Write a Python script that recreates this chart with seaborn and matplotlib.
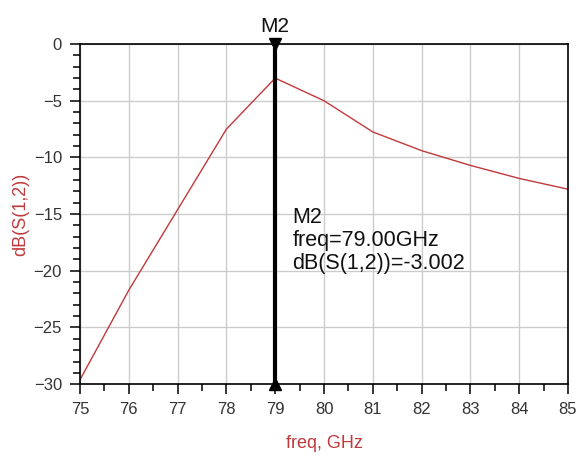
import numpy as np
import pandas as pd
import matplotlib
matplotlib.use("Agg")
import matplotlib.pyplot as plt
import seaborn as sns
from matplotlib.ticker import MultipleLocator

freq = [75, 76, 77, 78, 79, 80, 81, 82, 83, 84, 85]
s12_db = [-29.6, -21.7, -14.6, -7.5, -3.002, -5.0, -7.75, -9.4, -10.7, -11.85, -12.8]
marker_freq = 79.0
marker_val = -3.002

df = pd.DataFrame({"freq": freq, "dB": s12_db})

sns.set_style("white")
plt.rcParams['font.family'] = ['Liberation Sans', 'DejaVu Sans']

fig = plt.figure(figsize=(5.76, 4.59), dpi=100)
ax = fig.add_axes([0.139, 0.163, 0.847, 0.741])

sns.lineplot(data=df, x="freq", y="dB", ax=ax, color="#c0393b", lw=1.0)

ax.set_xlim(75, 85)
ax.set_ylim(-30, 0)
ax.xaxis.set_major_locator(MultipleLocator(1))
ax.xaxis.set_minor_locator(MultipleLocator(0.5))
ax.yaxis.set_major_locator(MultipleLocator(5))
ax.yaxis.set_minor_locator(MultipleLocator(1))
ax.grid(True, which="major", color="#cccccc", lw=1.0)
ax.set_axisbelow(True)
ax.tick_params(which="both", bottom=True, left=True, top=False, right=False)
ax.tick_params(which="major", direction="out", length=7, width=1.1, labelsize=12, color="black",
               labelcolor="#333333", pad=6)
ax.tick_params(which="minor", direction="out", length=5, width=1.1, color="black")
for s in ax.spines.values():
    s.set_color("black")
    s.set_linewidth(1.2)

ax.set_xlabel("freq, GHz", color="#c0393b", fontsize=13, labelpad=13)
ax.set_ylabel("dB(S(1,2))", color="#c0393b", fontsize=13, labelpad=3)

# marker M2
ax.axvline(marker_freq, color="black", lw=3, zorder=5)
ax.plot([marker_freq], [0], marker="v", color="black", markersize=9, clip_on=False, zorder=6)
ax.plot([marker_freq], [-30], marker="^", color="black", markersize=9, clip_on=False, zorder=6)
ax.text(marker_freq, 0.7, "M2", ha="center", va="bottom", fontsize=15, color="#111111")
ax.text(marker_freq + 0.35, -14.4, f"M2\nfreq={marker_freq:.2f}GHz\ndB(S(1,2))={marker_val:.3f}",
        ha="left", va="top", fontsize=15.5, linespacing=1.12, zorder=7, color="#111111")

fig.savefig("out.png", dpi=100)
